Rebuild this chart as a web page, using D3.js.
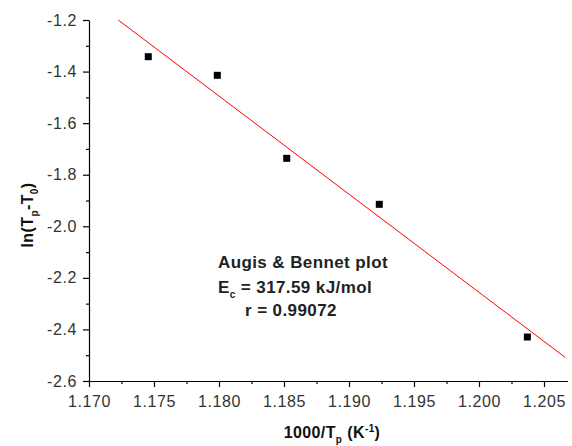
<!DOCTYPE html>
<html><head><meta charset="utf-8">
<script src="https://cdn.jsdelivr.net/npm/d3@7"></script>
<style>
body{margin:0;background:#fff;}
svg{display:block;font-family:"Liberation Sans",Arial,sans-serif;}
</style></head>
<body><svg id="c" width="572" height="446"></svg>
<script>
const xValues = [1.17456, 1.17987, 1.18521, 1.19233, 1.20372];
const yValues = [-1.3423, -1.4145, -1.7364, -1.9148, -2.4294];
const fitX = [1.17225, 1.20662];
const fitY = [-1.200, -2.508];
const xMajorTicks = [1.170, 1.175, 1.180, 1.185, 1.190, 1.195, 1.200, 1.205];
const xMinorTicks = [1.1725, 1.1775, 1.1825, 1.1875, 1.1925, 1.1975, 1.2025];
const yMajorTicks = [-2.6, -2.4, -2.2, -2.0, -1.8, -1.6, -1.4, -1.2];
const yMinorTicks = [-2.5, -2.3, -2.1, -1.9, -1.7, -1.5, -1.3];

const svg = d3.select("#c");
const x = d3.scaleLinear().domain([1.170, 1.2068]).range([89, 567.4]);
const y = d3.scaleLinear().domain([-2.6, -1.2]).range([381, 20]);

const tickColor = "#333";
// x axis
const gx = svg.append("g").attr("transform", "translate(0,381)");
gx.call(d3.axisBottom(x).tickValues(xMajorTicks).tickFormat(d3.format(".3f")).tickSize(6).tickSizeOuter(0));
gx.append("g").call(d3.axisBottom(x).tickValues(xMinorTicks).tickFormat("").tickSize(3).tickSizeOuter(0))
  .select(".domain").remove();
gx.selectAll("text").attr("font-size", 16).attr("fill", tickColor).attr("dy", "1.05em")
  .attr("font-family", "Liberation Sans, Arial, sans-serif").style("letter-spacing", "0.6px");

// y axis
const yFmt = d => d.toFixed(1);
const gy = svg.append("g").attr("transform", "translate(89,0)");
gy.call(d3.axisLeft(y).tickValues(yMajorTicks).tickFormat(yFmt).tickSize(6).tickSizeOuter(0));
gy.append("g").call(d3.axisLeft(y).tickValues(yMinorTicks).tickFormat("").tickSize(3).tickSizeOuter(0))
  .select(".domain").remove();
gy.selectAll("text").attr("font-size", 16).attr("fill", tickColor).attr("x", -12)
  .attr("font-family", "Liberation Sans, Arial, sans-serif").style("letter-spacing", "0.6px");

svg.selectAll(".domain, .tick line").attr("stroke", "#000").attr("stroke-width", 1.2);

// fit line
const fitData = fitX.map((d, i) => [d, fitY[i]]);
svg.append("path").datum(fitData)
  .attr("d", d3.line().x(d => x(d[0])).y(d => y(d[1])))
  .attr("stroke", "#ff0000").attr("stroke-width", 1).attr("fill", "none");

// points
const pts = xValues.map((d, i) => [d, yValues[i]]);
svg.selectAll("rect.pt").data(pts).enter().append("rect").attr("class", "pt")
  .attr("x", d => x(d[0]) - 3.5).attr("y", d => y(d[1]) - 3.5)
  .attr("width", 7).attr("height", 7).attr("fill", "#000");

// axis titles
const xt = svg.append("text").attr("x", 332).attr("y", 438).attr("text-anchor", "middle")
  .attr("font-size", 16).attr("font-weight", "bold").attr("fill", "#111").style("letter-spacing", "0.4px");
xt.append("tspan").text("1000/T");
xt.append("tspan").attr("font-size", 10).attr("dy", 5).text("p");
xt.append("tspan").attr("dy", -5).text(" (K");
xt.append("tspan").attr("font-size", 10).attr("dy", -6).text("-1");
xt.append("tspan").attr("dy", 6).text(")");

const yt = svg.append("text").attr("transform", "translate(33,215) rotate(-90)").attr("text-anchor", "middle")
  .attr("font-size", 16).attr("font-weight", "bold").attr("fill", "#111").style("letter-spacing", "0.4px");
yt.append("tspan").text("ln(T");
yt.append("tspan").attr("font-size", 10).attr("dy", 5).text("p");
yt.append("tspan").attr("dy", -5).text("-T");
yt.append("tspan").attr("font-size", 10).attr("dy", 5).text("0");
yt.append("tspan").attr("dy", -5).text(")");

// annotation
const ann = svg.append("g").attr("font-size", 17).attr("font-weight", "bold").attr("fill", "#222")
  .style("letter-spacing", "0.4px");
ann.append("text").attr("x", 218).attr("y", 268).text("Augis & Bennet plot");
const e = ann.append("text").attr("x", 218).attr("y", 293);
e.append("tspan").text("E");
e.append("tspan").attr("font-size", 10).attr("dy", 5).text("c");
e.append("tspan").attr("dy", -5).text(" = 317.59 kJ/mol");
ann.append("text").attr("x", 245).attr("y", 316).text("r = 0.99072");
</script></body></html>
